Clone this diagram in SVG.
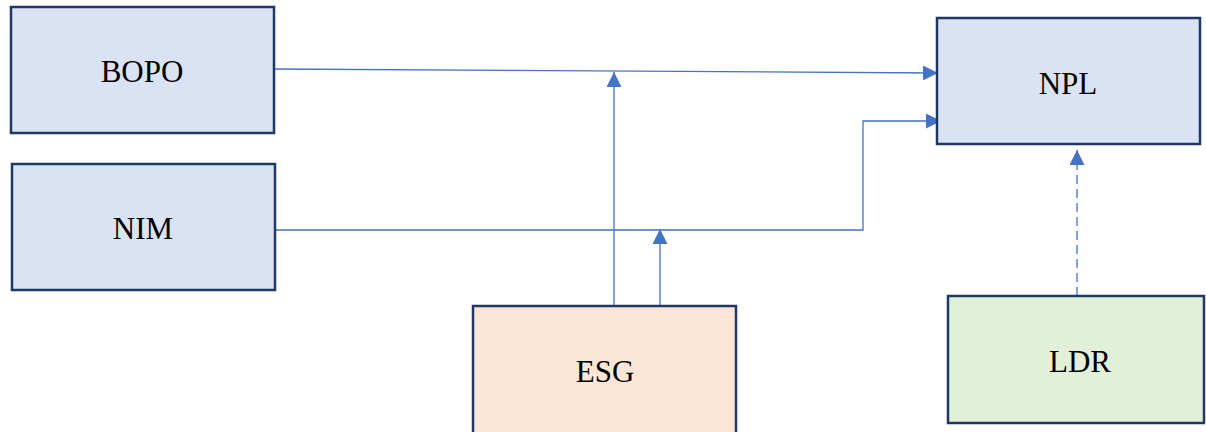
<svg xmlns="http://www.w3.org/2000/svg" width="1206" height="432" viewBox="0 0 1206 432">
  <style>
    .box { stroke: #1f3864; stroke-width: 2.5; }
    .blue { fill: #dae3f3; }
    .peach { fill: #fbe5d6; }
    .green { fill: #e2f0d9; }
    .label { font-family: "Liberation Serif", "Times New Roman", serif; font-size: 31px; fill: #000; text-anchor: middle; }
    .conn { fill: none; stroke: #4472c4; stroke-width: 1.3; }
    .dash { stroke-dasharray: 9 5; }
  </style>
  <defs>
    <marker id="arrow" viewBox="0 0 10 10" refX="10" refY="5" markerWidth="15" markerHeight="15" markerUnits="userSpaceOnUse" orient="auto">
      <path d="M0,0 L10,5 L0,10 Z" fill="#4472c4"/>
    </marker>
  </defs>

  <rect width="1206" height="432" fill="#ffffff"/>

  <g id="connectors">
    <!-- BOPO to NPL -->
    <path class="conn" d="M274,69 L938,73" marker-end="url(#arrow)"/>
    <!-- NIM to NPL, elbow -->
    <path class="conn" d="M275,230 L863,230 L863,121 L941,121" marker-end="url(#arrow)"/>
    <!-- ESG onto BOPO link -->
    <path class="conn" d="M614,306 L614,72" marker-end="url(#arrow)"/>
    <!-- ESG onto NIM link -->
    <path class="conn" d="M660,306 L660,229" marker-end="url(#arrow)"/>
    <!-- LDR to NPL, dashed -->
    <path class="conn dash" d="M1077,296 L1077,150" marker-end="url(#arrow)"/>
  </g>

  <g id="node-bopo">
    <rect class="box blue" x="11" y="7" width="263" height="126"/>
    <text class="label" x="142" y="82">BOPO</text>
  </g>

  <g id="node-nim">
    <rect class="box blue" x="12" y="164" width="263" height="126"/>
    <text class="label" x="143" y="239">NIM</text>
  </g>

  <g id="node-npl">
    <rect class="box blue" x="937" y="18" width="263" height="126"/>
    <text class="label" x="1068" y="94">NPL</text>
  </g>

  <g id="node-esg">
    <rect class="box peach" x="473" y="306" width="263" height="140"/>
    <text class="label" x="605" y="382">ESG</text>
  </g>

  <g id="node-ldr">
    <rect class="box green" x="948" y="296" width="256" height="127"/>
    <text class="label" x="1080" y="372">LDR</text>
  </g>
</svg>
